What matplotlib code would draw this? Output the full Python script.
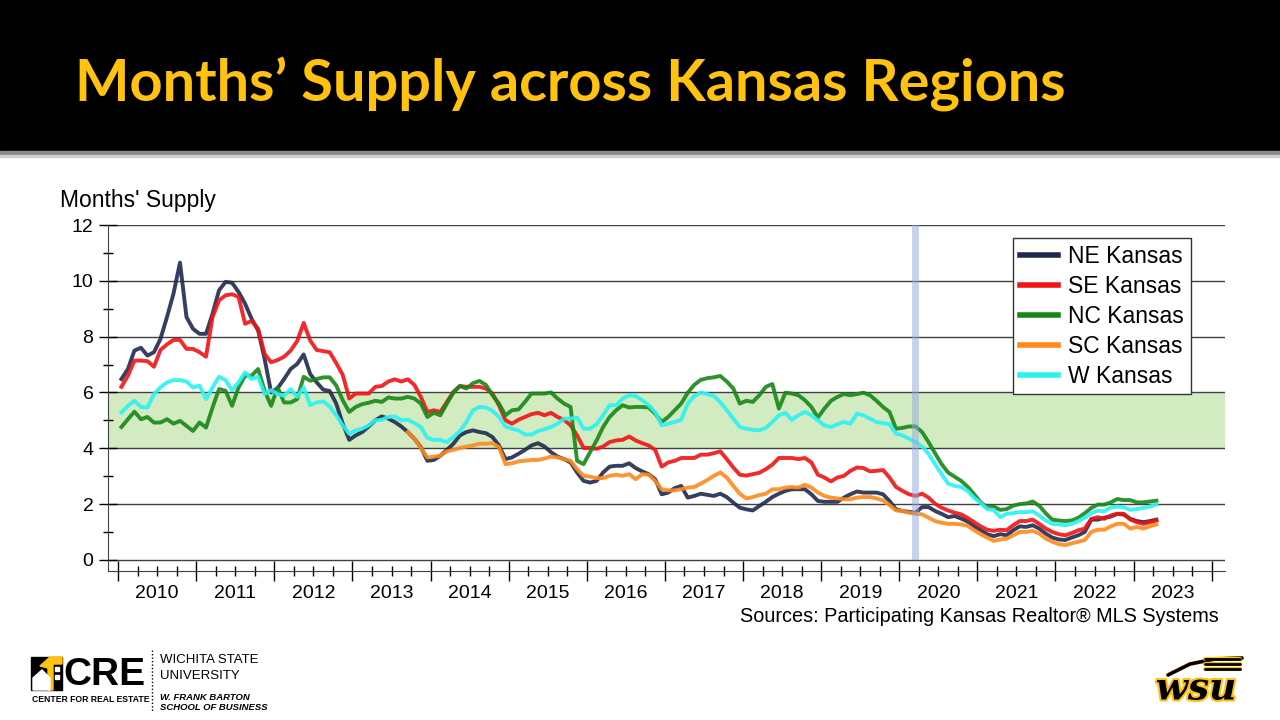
import matplotlib
matplotlib.use("Agg")
import matplotlib.pyplot as plt
import matplotlib.patheffects as pe
from matplotlib.patches import Rectangle, Polygon
import numpy as np
import pandas as pd

plt.rcParams['font.family'] = ['Liberation Sans', 'DejaVu Sans']

# monthly months' supply, Jan 2010 - Apr 2023
months = pd.date_range("2010-01", "2023-04", freq="MS")

ne_kansas = [
    6.48, 6.84, 7.5, 7.6, 7.32, 7.44, 7.92, 8.7, 9.54, 10.65,
    8.7, 8.28, 8.1, 8.1, 8.82, 9.66, 9.96, 9.93, 9.6, 9.18,
    8.64, 8.22, 7.2, 6.0, 6.15, 6.48, 6.84, 7.02, 7.36, 6.66,
    6.36, 6.1, 6.05, 5.6, 4.88, 4.3, 4.46, 4.58, 4.78, 5.0,
    5.14, 5.06, 4.94, 4.78, 4.58, 4.34, 4.04, 3.55, 3.58, 3.73,
    3.94, 4.16, 4.46, 4.58, 4.64, 4.58, 4.54, 4.4, 4.1, 3.61,
    3.67, 3.8, 3.94, 4.1, 4.18, 4.06, 3.86, 3.7, 3.61, 3.49,
    3.13, 2.83, 2.77, 2.83, 3.13, 3.34, 3.37, 3.37, 3.46, 3.29,
    3.17, 3.07, 2.89, 2.35, 2.41, 2.57, 2.65, 2.23, 2.29, 2.37,
    2.33, 2.29, 2.37, 2.25, 2.05, 1.87, 1.81, 1.77, 1.93, 2.08,
    2.25, 2.37, 2.47, 2.53, 2.53, 2.53, 2.35, 2.11, 2.08, 2.08,
    2.08, 2.23, 2.35, 2.45, 2.41, 2.41, 2.41, 2.35, 2.11, 1.81,
    1.75, 1.72, 1.69, 1.89, 1.89, 1.75, 1.65, 1.53, 1.57, 1.48,
    1.37, 1.2, 1.06, 0.92, 0.85, 0.92, 0.88, 1.06, 1.2, 1.18,
    1.24, 1.12, 0.94, 0.8, 0.73, 0.71, 0.8, 0.88, 1.0, 1.44,
    1.44, 1.51, 1.55, 1.65, 1.62, 1.47, 1.39, 1.35, 1.39, 1.44,
]
se_kansas = [
    6.2, 6.6, 7.14, 7.14, 7.12, 6.92, 7.52, 7.72, 7.88, 7.88,
    7.56, 7.56, 7.44, 7.28, 8.7, 9.3, 9.48, 9.52, 9.42, 8.46,
    8.56, 8.28, 7.38, 7.08, 7.16, 7.28, 7.5, 7.84, 8.49, 7.86,
    7.52, 7.48, 7.44, 7.05, 6.63, 5.78, 5.96, 5.96, 5.96, 6.2,
    6.23, 6.39, 6.47, 6.39, 6.47, 6.27, 5.84, 5.3, 5.36, 5.3,
    5.66, 6.02, 6.23, 6.2, 6.2, 6.2, 6.14, 5.96, 5.54, 5.0,
    4.88, 5.02, 5.12, 5.22, 5.27, 5.18, 5.27, 5.12, 5.02, 4.82,
    4.46, 4.01, 4.01, 3.98, 4.06, 4.22, 4.28, 4.3, 4.42, 4.28,
    4.18, 4.1, 3.94, 3.34, 3.49, 3.55, 3.65, 3.65, 3.65, 3.77,
    3.77, 3.82, 3.89, 3.61, 3.31, 3.05, 3.02, 3.07, 3.12, 3.25,
    3.41, 3.65, 3.65, 3.65, 3.61, 3.65, 3.49, 3.05, 2.95, 2.81,
    2.95, 3.01, 3.19, 3.31, 3.29, 3.17, 3.19, 3.22, 2.95, 2.61,
    2.47, 2.35, 2.29, 2.37, 2.23, 2.01, 1.87, 1.77, 1.69, 1.63,
    1.5, 1.35, 1.2, 1.08, 1.04, 1.08, 1.06, 1.24, 1.39, 1.39,
    1.44, 1.29, 1.12, 1.0, 0.92, 0.88, 0.96, 1.06, 1.12, 1.47,
    1.53, 1.47, 1.59, 1.65, 1.65, 1.44, 1.35, 1.29, 1.35, 1.41,
]
nc_kansas = [
    4.76, 5.04, 5.31, 5.04, 5.12, 4.92, 4.92, 5.04, 4.88, 4.98,
    4.8, 4.62, 4.92, 4.74, 5.46, 6.12, 6.06, 5.52, 6.18, 6.6,
    6.6, 6.84, 6.06, 5.52, 6.18, 5.64, 5.64, 5.76, 6.56, 6.42,
    6.48, 6.54, 6.54, 6.25, 5.72, 5.3, 5.48, 5.58, 5.63, 5.7,
    5.66, 5.82, 5.78, 5.78, 5.84, 5.78, 5.6, 5.12, 5.27, 5.18,
    5.6, 5.99, 6.23, 6.14, 6.33, 6.41, 6.27, 5.9, 5.6, 5.18,
    5.36, 5.39, 5.66, 5.96, 5.96, 5.96, 6.0, 5.78, 5.6, 5.48,
    3.55, 3.43, 3.86, 4.28, 4.76, 5.12, 5.36, 5.54, 5.46, 5.48,
    5.48, 5.46, 5.24, 4.94, 5.12, 5.36, 5.6, 5.99, 6.27, 6.45,
    6.51, 6.54, 6.59, 6.39, 6.14, 5.6, 5.7, 5.66, 5.9, 6.2,
    6.3, 5.42, 5.99, 5.96, 5.9, 5.72, 5.48, 5.1, 5.42, 5.7,
    5.84, 5.94, 5.9, 5.94, 5.99, 5.9, 5.7, 5.48, 5.3, 4.7,
    4.73, 4.78, 4.78, 4.58, 4.22, 3.82, 3.43, 3.13, 2.98, 2.83,
    2.62, 2.35, 2.06, 1.88, 1.91, 1.79, 1.82, 1.94, 2.0, 2.02,
    2.09, 1.94, 1.67, 1.44, 1.41, 1.39, 1.41, 1.51, 1.67, 1.86,
    1.98, 1.98, 2.06, 2.18, 2.14, 2.14, 2.06, 2.06, 2.09, 2.12,
]
w_kansas = [
    5.28, 5.52, 5.7, 5.48, 5.46, 5.94, 6.18, 6.36, 6.44, 6.44,
    6.39, 6.18, 6.24, 5.76, 6.18, 6.56, 6.44, 6.08, 6.36, 6.72,
    6.48, 6.56, 5.94, 6.08, 5.94, 5.88, 6.12, 5.84, 6.18, 5.55,
    5.64, 5.68, 5.5, 5.18, 4.82, 4.52, 4.64, 4.7, 4.82, 5.0,
    5.02, 5.12, 5.14, 5.0, 5.02, 4.9, 4.76, 4.37, 4.3, 4.3,
    4.22, 4.4, 4.61, 4.94, 5.36, 5.48, 5.46, 5.34, 5.12, 4.78,
    4.7, 4.64, 4.49, 4.49, 4.61, 4.68, 4.76, 4.88, 5.06, 5.06,
    5.1, 4.7, 4.7, 4.86, 5.18, 5.54, 5.54, 5.78, 5.9, 5.87,
    5.72, 5.54, 5.3, 4.82, 4.88, 4.94, 5.02, 5.6, 5.87, 5.99,
    5.94, 5.87, 5.66, 5.36, 5.06, 4.76, 4.7, 4.66, 4.64, 4.73,
    4.94, 5.18, 5.27, 5.02, 5.18, 5.3, 5.18, 5.0, 4.82, 4.76,
    4.86, 4.94, 4.88, 5.24, 5.18, 5.06, 4.94, 4.9, 4.86, 4.52,
    4.46, 4.34, 4.22, 4.06, 3.8, 3.43, 3.07, 2.73, 2.65, 2.61,
    2.47, 2.22, 2.04, 1.82, 1.79, 1.53, 1.65, 1.67, 1.71, 1.71,
    1.74, 1.59, 1.41, 1.29, 1.27, 1.24, 1.29, 1.39, 1.51, 1.67,
    1.76, 1.74, 1.88, 1.91, 1.88, 1.79, 1.82, 1.86, 1.91, 1.98,
]
# SC Kansas series begins Sep 2013
sc_months = pd.date_range("2013-09", "2023-04", freq="MS")
sc_kansas = [
    4.58, 4.34, 4.01, 3.67, 3.7, 3.73,
    3.89, 3.94, 4.01, 4.06, 4.1, 4.16, 4.16, 4.18, 4.04, 3.43,
    3.46, 3.53, 3.55, 3.58, 3.58, 3.63, 3.7, 3.67, 3.61, 3.55,
    3.25, 3.01, 2.98, 2.93, 2.93, 3.01, 3.05, 3.01, 3.07, 2.89,
    3.07, 3.05, 2.83, 2.53, 2.49, 2.49, 2.53, 2.59, 2.61, 2.73,
    2.86, 3.01, 3.13, 2.95, 2.65, 2.37, 2.2, 2.25, 2.32, 2.37,
    2.53, 2.53, 2.59, 2.61, 2.59, 2.69, 2.59, 2.41, 2.29, 2.23,
    2.2, 2.17, 2.17, 2.23, 2.25, 2.25, 2.2, 2.13, 1.96, 1.77,
    1.75, 1.69, 1.65, 1.63, 1.51, 1.39, 1.33, 1.29, 1.29, 1.27,
    1.22, 1.06, 0.92, 0.8, 0.68, 0.73, 0.76, 0.88, 1.0, 1.0,
    1.04, 0.94, 0.76, 0.65, 0.56, 0.53, 0.59, 0.65, 0.71, 1.0,
    1.08, 1.08, 1.2, 1.29, 1.29, 1.12, 1.18, 1.12, 1.2, 1.27,
]

balanced_band = (4, 6)          # shaded "balanced market" range
covid_month = "2020-03"         # highlighted month
year_labels = list(range(2010, 2024))


def decimal_year(idx):
    return np.asarray(idx.year + (idx.month - 0.5) / 12.0)


fig = plt.figure(figsize=(12.8, 7.2), dpi=100)

# slide background: black header, gray rule, logos (pixel coordinates)
bg = fig.add_axes([0, 0, 1, 1], zorder=0)
bg.set_xlim(0, 1280)
bg.set_ylim(720, 0)
bg.axis("off")
bg.add_patch(Rectangle((0, 0), 1280, 151, color="black"))
bg.add_patch(Rectangle((0, 151), 1280, 4, color="#8a8a8a"))
bg.add_patch(Rectangle((0, 155), 1280, 2, color="#d0d0d0"))
bg.text(75, 84, "Months\u2019 Supply across Kansas Regions", color="#FFC20E",
        fontsize=41.6, fontweight="bold", family="Lato", va="center", ha="left")

bg.text(60, 200, "Months' Supply", fontsize=16.5, va="center", ha="left")
bg.text(1219, 617, "Sources: Participating Kansas Realtor\u00ae MLS Systems",
        fontsize=14.3, va="center", ha="right")

# CRE logo
bg.add_patch(Rectangle((31, 657), 31, 33, color="black"))
bg.add_patch(Polygon([(40, 666), (50, 657), (62, 657), (62, 664), (53, 664), (53, 690), (48, 690), (48, 668)],
                     closed=True, color="#FFC20E"))
bg.add_patch(Polygon([(33, 690), (33, 678), (42, 670), (50, 678), (50, 690)], closed=True, color="white"))
bg.add_patch(Rectangle((55, 667), 4, 4, color="white"))
bg.add_patch(Rectangle((55, 675), 4, 4, color="white"))
bg.text(63, 675, "CRE", fontsize=28, fontweight="bold", va="center", ha="left")
bg.text(32, 700, "CENTER FOR REAL ESTATE", fontsize=6.2, fontweight="bold", va="center", ha="left")
bg.plot([152, 152], [650, 712], ls=(0, (1, 1.5)), color="black", lw=1)
bg.text(160, 660, "WICHITA STATE", fontsize=9.5, va="center", ha="left")
bg.text(160, 676, "UNIVERSITY", fontsize=9.5, va="center", ha="left")
bg.text(160, 697, "W. FRANK BARTON", fontsize=6.8, fontweight="bold", style="italic", va="center", ha="left")
bg.text(160, 708, "SCHOOL OF BUSINESS", fontsize=6.8, fontweight="bold", style="italic", va="center", ha="left")

# WSU logo
gold_edge = [pe.withStroke(linewidth=3, foreground="#FFC20E")]
bg.text(1196, 689, "wsu", fontsize=27, fontweight="bold", style="italic", family="DejaVu Serif",
        color="black", va="center", ha="center", path_effects=gold_edge)
bg.plot([1168, 1190, 1215, 1242], [675, 664, 659, 658], color="black", lw=2.5,
        solid_capstyle="round", path_effects=gold_edge)
for dy in (0, 5, 10):
    bg.plot([1205, 1240], [659 + dy, 659 + dy], color="black", lw=2,
            solid_capstyle="round", path_effects=gold_edge)

# chart
ax = fig.add_axes([108 / 1280, 1 - 571 / 720, 1117 / 1280, 346 / 720], zorder=1)
ax.set_facecolor("white")

ax.axhspan(*balanced_band, color="#D3EBC1", lw=0, zorder=0.2)

x_all = decimal_year(months)
x_sc = decimal_year(sc_months)
lw = 2.8
ax.plot(x_all, ne_kansas, color="#1F2A4F", lw=lw, alpha=0.9, label="NE Kansas", zorder=2)
ax.plot(x_all, se_kansas, color="#F01414", lw=lw, alpha=0.9, label="SE Kansas", zorder=2)
ax.plot(x_all, nc_kansas, color="#178717", lw=lw, alpha=0.9, label="NC Kansas", zorder=2)
ax.plot(x_sc, sc_kansas, color="#FF8A1C", lw=lw, alpha=0.9, label="SC Kansas", zorder=2)
ax.plot(x_all, w_kansas, color="#2BF2F2", lw=lw, alpha=0.9, label="W Kansas", zorder=2)

cv = pd.Timestamp(covid_month)
cv0 = cv.year + (cv.month - 1) / 12.0
ax.fill_between([cv0, cv0 + 1 / 12.0], 0, 12, color="#91A9DD", alpha=0.5, lw=0, zorder=3)

ax.set_ylim(-0.4, 12)
ax.set_xlim(2009.87, 2024.17)
ax.set_yticks(range(0, 13, 2))
ax.set_yticks(range(1, 12, 2), minor=True)
ax.set_xticks(range(2010, 2025))
ax.set_xticks(np.arange(2010, 2024.01, 0.25), minor=True)
ax.set_xticklabels([])
ax.tick_params(axis="y", which="major", direction="inout", length=13, width=1, labelsize=14, pad=4)
ax.tick_params(axis="y", which="minor", direction="inout", length=7, width=1)
ax.tick_params(axis="x", which="major", direction="inout", length=15, width=1)
ax.tick_params(axis="x", which="minor", direction="inout", length=7, width=1)
ax.set_axisbelow(True)
ax.grid(axis="y", which="major", color="#404040", lw=1)
for side in ("top", "right"):
    ax.spines[side].set_visible(False)
ax.spines["left"].set_color("#404040")
ax.spines["bottom"].set_color("#404040")

sec = ax.secondary_xaxis("bottom")
sec.set_xticks([y + 0.5 for y in year_labels], [str(y) for y in year_labels])
sec.tick_params(length=0, labelsize=14, pad=10)
sec.spines["bottom"].set_visible(False)

leg = ax.legend(loc="upper left", bbox_to_anchor=(0.810, 0.962), fontsize=16.5,
                frameon=True, fancybox=False, framealpha=1, edgecolor="#333333",
                handlelength=1.66, handletextpad=0.45, labelspacing=0.3, borderpad=0.3,
                borderaxespad=0)
leg.get_frame().set_linewidth(1)
for line in leg.get_lines():
    line.set_linewidth(4)
    line.set_alpha(1)

fig.savefig("out.png", dpi=100)
